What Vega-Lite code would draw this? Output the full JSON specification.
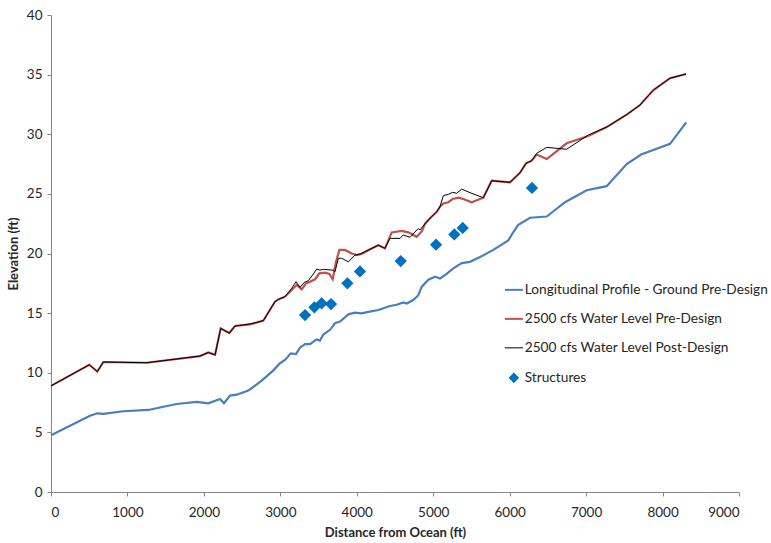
{
  "$schema": "https://vega.github.io/schema/vega-lite/v6.json",
  "width": 688,
  "height": 477,
  "autosize": {"type": "none"},
  "padding": {"left": 51, "top": 15, "right": 32, "bottom": 51},
  "background": "white",
  "config": {
    "view": {"stroke": null},
    "font": "Lato",
    "axis": {
      "grid": false,
      "domainColor": "#868686",
      "tickColor": "#868686",
      "tickSize": 4,
      "labelFont": "Lato",
      "labelFontSize": 13.5,
      "labelColor": "#262626",
      "titleFont": "Lato",
      "titleFontSize": 13,
      "titleFontWeight": "bold",
      "titleColor": "#262626"
    }
  },
  "datasets": {
    "profiles": [
      {"series": "Longitudinal Profile - Ground Pre-Design", "distance": 0, "elevation": 4.75},
      {"series": "Longitudinal Profile - Ground Pre-Design", "distance": 510, "elevation": 6.4},
      {"series": "Longitudinal Profile - Ground Pre-Design", "distance": 606, "elevation": 6.6},
      {"series": "Longitudinal Profile - Ground Pre-Design", "distance": 685, "elevation": 6.55},
      {"series": "Longitudinal Profile - Ground Pre-Design", "distance": 946, "elevation": 6.77},
      {"series": "Longitudinal Profile - Ground Pre-Design", "distance": 1273, "elevation": 6.88},
      {"series": "Longitudinal Profile - Ground Pre-Design", "distance": 1644, "elevation": 7.38},
      {"series": "Longitudinal Profile - Ground Pre-Design", "distance": 1906, "elevation": 7.55},
      {"series": "Longitudinal Profile - Ground Pre-Design", "distance": 2058, "elevation": 7.44},
      {"series": "Longitudinal Profile - Ground Pre-Design", "distance": 2211, "elevation": 7.8},
      {"series": "Longitudinal Profile - Ground Pre-Design", "distance": 2263, "elevation": 7.44},
      {"series": "Longitudinal Profile - Ground Pre-Design", "distance": 2342, "elevation": 8.08},
      {"series": "Longitudinal Profile - Ground Pre-Design", "distance": 2429, "elevation": 8.16},
      {"series": "Longitudinal Profile - Ground Pre-Design", "distance": 2581, "elevation": 8.5},
      {"series": "Longitudinal Profile - Ground Pre-Design", "distance": 2756, "elevation": 9.34},
      {"series": "Longitudinal Profile - Ground Pre-Design", "distance": 2909, "elevation": 10.2},
      {"series": "Longitudinal Profile - Ground Pre-Design", "distance": 2996, "elevation": 10.8},
      {"series": "Longitudinal Profile - Ground Pre-Design", "distance": 3061, "elevation": 11.07},
      {"series": "Longitudinal Profile - Ground Pre-Design", "distance": 3136, "elevation": 11.63},
      {"series": "Longitudinal Profile - Ground Pre-Design", "distance": 3205, "elevation": 11.57},
      {"series": "Longitudinal Profile - Ground Pre-Design", "distance": 3257, "elevation": 12.1},
      {"series": "Longitudinal Profile - Ground Pre-Design", "distance": 3323, "elevation": 12.4},
      {"series": "Longitudinal Profile - Ground Pre-Design", "distance": 3388, "elevation": 12.4},
      {"series": "Longitudinal Profile - Ground Pre-Design", "distance": 3476, "elevation": 12.8},
      {"series": "Longitudinal Profile - Ground Pre-Design", "distance": 3519, "elevation": 12.7},
      {"series": "Longitudinal Profile - Ground Pre-Design", "distance": 3562, "elevation": 13.2},
      {"series": "Longitudinal Profile - Ground Pre-Design", "distance": 3650, "elevation": 13.6},
      {"series": "Longitudinal Profile - Ground Pre-Design", "distance": 3715, "elevation": 14.15},
      {"series": "Longitudinal Profile - Ground Pre-Design", "distance": 3781, "elevation": 14.3},
      {"series": "Longitudinal Profile - Ground Pre-Design", "distance": 3890, "elevation": 14.9},
      {"series": "Longitudinal Profile - Ground Pre-Design", "distance": 3977, "elevation": 15.04},
      {"series": "Longitudinal Profile - Ground Pre-Design", "distance": 4064, "elevation": 14.98},
      {"series": "Longitudinal Profile - Ground Pre-Design", "distance": 4151, "elevation": 15.1},
      {"series": "Longitudinal Profile - Ground Pre-Design", "distance": 4282, "elevation": 15.26},
      {"series": "Longitudinal Profile - Ground Pre-Design", "distance": 4435, "elevation": 15.6},
      {"series": "Longitudinal Profile - Ground Pre-Design", "distance": 4522, "elevation": 15.7},
      {"series": "Longitudinal Profile - Ground Pre-Design", "distance": 4609, "elevation": 15.9},
      {"series": "Longitudinal Profile - Ground Pre-Design", "distance": 4653, "elevation": 15.8},
      {"series": "Longitudinal Profile - Ground Pre-Design", "distance": 4740, "elevation": 16.1},
      {"series": "Longitudinal Profile - Ground Pre-Design", "distance": 4805, "elevation": 16.5},
      {"series": "Longitudinal Profile - Ground Pre-Design", "distance": 4849, "elevation": 17.2},
      {"series": "Longitudinal Profile - Ground Pre-Design", "distance": 4936, "elevation": 17.8},
      {"series": "Longitudinal Profile - Ground Pre-Design", "distance": 5023, "elevation": 18.05},
      {"series": "Longitudinal Profile - Ground Pre-Design", "distance": 5089, "elevation": 17.9},
      {"series": "Longitudinal Profile - Ground Pre-Design", "distance": 5176, "elevation": 18.3},
      {"series": "Longitudinal Profile - Ground Pre-Design", "distance": 5263, "elevation": 18.76},
      {"series": "Longitudinal Profile - Ground Pre-Design", "distance": 5373, "elevation": 19.2},
      {"series": "Longitudinal Profile - Ground Pre-Design", "distance": 5481, "elevation": 19.3},
      {"series": "Longitudinal Profile - Ground Pre-Design", "distance": 5612, "elevation": 19.7},
      {"series": "Longitudinal Profile - Ground Pre-Design", "distance": 5786, "elevation": 20.3},
      {"series": "Longitudinal Profile - Ground Pre-Design", "distance": 5982, "elevation": 21.1},
      {"series": "Longitudinal Profile - Ground Pre-Design", "distance": 6048, "elevation": 21.8},
      {"series": "Longitudinal Profile - Ground Pre-Design", "distance": 6113, "elevation": 22.4},
      {"series": "Longitudinal Profile - Ground Pre-Design", "distance": 6266, "elevation": 23.0},
      {"series": "Longitudinal Profile - Ground Pre-Design", "distance": 6485, "elevation": 23.1},
      {"series": "Longitudinal Profile - Ground Pre-Design", "distance": 6724, "elevation": 24.3},
      {"series": "Longitudinal Profile - Ground Pre-Design", "distance": 7008, "elevation": 25.3},
      {"series": "Longitudinal Profile - Ground Pre-Design", "distance": 7269, "elevation": 25.65},
      {"series": "Longitudinal Profile - Ground Pre-Design", "distance": 7531, "elevation": 27.5},
      {"series": "Longitudinal Profile - Ground Pre-Design", "distance": 7720, "elevation": 28.3},
      {"series": "Longitudinal Profile - Ground Pre-Design", "distance": 8098, "elevation": 29.2},
      {"series": "Longitudinal Profile - Ground Pre-Design", "distance": 8310, "elevation": 31.0},

      {"series": "2500 cfs Water Level Pre-Design", "distance": 0, "elevation": 8.9},
      {"series": "2500 cfs Water Level Pre-Design", "distance": 501, "elevation": 10.67},
      {"series": "2500 cfs Water Level Pre-Design", "distance": 606, "elevation": 10.1},
      {"series": "2500 cfs Water Level Pre-Design", "distance": 685, "elevation": 10.9},
      {"series": "2500 cfs Water Level Pre-Design", "distance": 1252, "elevation": 10.84},
      {"series": "2500 cfs Water Level Pre-Design", "distance": 1949, "elevation": 11.4},
      {"series": "2500 cfs Water Level Pre-Design", "distance": 2058, "elevation": 11.7},
      {"series": "2500 cfs Water Level Pre-Design", "distance": 2146, "elevation": 11.5},
      {"series": "2500 cfs Water Level Pre-Design", "distance": 2220, "elevation": 13.72},
      {"series": "2500 cfs Water Level Pre-Design", "distance": 2276, "elevation": 13.52},
      {"series": "2500 cfs Water Level Pre-Design", "distance": 2333, "elevation": 13.35},
      {"series": "2500 cfs Water Level Pre-Design", "distance": 2407, "elevation": 13.92},
      {"series": "2500 cfs Water Level Pre-Design", "distance": 2603, "elevation": 14.05},
      {"series": "2500 cfs Water Level Pre-Design", "distance": 2778, "elevation": 14.37},
      {"series": "2500 cfs Water Level Pre-Design", "distance": 2930, "elevation": 15.96},
      {"series": "2500 cfs Water Level Pre-Design", "distance": 2974, "elevation": 16.15},
      {"series": "2500 cfs Water Level Pre-Design", "distance": 3061, "elevation": 16.38},
      {"series": "2500 cfs Water Level Pre-Design", "distance": 3149, "elevation": 16.94},
      {"series": "2500 cfs Water Level Pre-Design", "distance": 3214, "elevation": 17.36},
      {"series": "2500 cfs Water Level Pre-Design", "distance": 3279, "elevation": 17.0},
      {"series": "2500 cfs Water Level Pre-Design", "distance": 3336, "elevation": 17.5},
      {"series": "2500 cfs Water Level Pre-Design", "distance": 3388, "elevation": 17.64},
      {"series": "2500 cfs Water Level Pre-Design", "distance": 3454, "elevation": 17.84},
      {"series": "2500 cfs Water Level Pre-Design", "distance": 3510, "elevation": 18.34},
      {"series": "2500 cfs Water Level Pre-Design", "distance": 3584, "elevation": 18.4},
      {"series": "2500 cfs Water Level Pre-Design", "distance": 3641, "elevation": 18.28},
      {"series": "2500 cfs Water Level Pre-Design", "distance": 3685, "elevation": 17.84},
      {"series": "2500 cfs Water Level Pre-Design", "distance": 3724, "elevation": 19.18},
      {"series": "2500 cfs Water Level Pre-Design", "distance": 3772, "elevation": 20.3},
      {"series": "2500 cfs Water Level Pre-Design", "distance": 3846, "elevation": 20.3},
      {"series": "2500 cfs Water Level Pre-Design", "distance": 3934, "elevation": 20.0},
      {"series": "2500 cfs Water Level Pre-Design", "distance": 3999, "elevation": 19.87},
      {"series": "2500 cfs Water Level Pre-Design", "distance": 4064, "elevation": 19.96},
      {"series": "2500 cfs Water Level Pre-Design", "distance": 4173, "elevation": 20.35},
      {"series": "2500 cfs Water Level Pre-Design", "distance": 4282, "elevation": 20.7},
      {"series": "2500 cfs Water Level Pre-Design", "distance": 4369, "elevation": 20.43},
      {"series": "2500 cfs Water Level Pre-Design", "distance": 4457, "elevation": 21.77},
      {"series": "2500 cfs Water Level Pre-Design", "distance": 4588, "elevation": 21.89},
      {"series": "2500 cfs Water Level Pre-Design", "distance": 4675, "elevation": 21.77},
      {"series": "2500 cfs Water Level Pre-Design", "distance": 4784, "elevation": 21.4},
      {"series": "2500 cfs Water Level Pre-Design", "distance": 4849, "elevation": 21.85},
      {"series": "2500 cfs Water Level Pre-Design", "distance": 4893, "elevation": 22.5},
      {"series": "2500 cfs Water Level Pre-Design", "distance": 4958, "elevation": 22.95},
      {"series": "2500 cfs Water Level Pre-Design", "distance": 5046, "elevation": 23.5},
      {"series": "2500 cfs Water Level Pre-Design", "distance": 5089, "elevation": 23.93},
      {"series": "2500 cfs Water Level Pre-Design", "distance": 5132, "elevation": 24.2},
      {"series": "2500 cfs Water Level Pre-Design", "distance": 5198, "elevation": 24.3},
      {"series": "2500 cfs Water Level Pre-Design", "distance": 5254, "elevation": 24.57},
      {"series": "2500 cfs Water Level Pre-Design", "distance": 5329, "elevation": 24.68},
      {"series": "2500 cfs Water Level Pre-Design", "distance": 5394, "elevation": 24.57},
      {"series": "2500 cfs Water Level Pre-Design", "distance": 5503, "elevation": 24.3},
      {"series": "2500 cfs Water Level Pre-Design", "distance": 5655, "elevation": 24.68},
      {"series": "2500 cfs Water Level Pre-Design", "distance": 5765, "elevation": 26.1},
      {"series": "2500 cfs Water Level Pre-Design", "distance": 6005, "elevation": 25.97},
      {"series": "2500 cfs Water Level Pre-Design", "distance": 6135, "elevation": 26.77},
      {"series": "2500 cfs Water Level Pre-Design", "distance": 6214, "elevation": 27.56},
      {"series": "2500 cfs Water Level Pre-Design", "distance": 6288, "elevation": 27.78},
      {"series": "2500 cfs Water Level Pre-Design", "distance": 6353, "elevation": 28.3},
      {"series": "2500 cfs Water Level Pre-Design", "distance": 6485, "elevation": 27.92},
      {"series": "2500 cfs Water Level Pre-Design", "distance": 6746, "elevation": 29.24},
      {"series": "2500 cfs Water Level Pre-Design", "distance": 7029, "elevation": 29.85},
      {"series": "2500 cfs Water Level Pre-Design", "distance": 7269, "elevation": 30.6},
      {"series": "2500 cfs Water Level Pre-Design", "distance": 7531, "elevation": 31.65},
      {"series": "2500 cfs Water Level Pre-Design", "distance": 7705, "elevation": 32.45},
      {"series": "2500 cfs Water Level Pre-Design", "distance": 7880, "elevation": 33.7},
      {"series": "2500 cfs Water Level Pre-Design", "distance": 8098, "elevation": 34.7},
      {"series": "2500 cfs Water Level Pre-Design", "distance": 8307, "elevation": 35.05},

      {"series": "2500 cfs Water Level Post-Design", "distance": 0, "elevation": 8.9},
      {"series": "2500 cfs Water Level Post-Design", "distance": 501, "elevation": 10.67},
      {"series": "2500 cfs Water Level Post-Design", "distance": 606, "elevation": 10.1},
      {"series": "2500 cfs Water Level Post-Design", "distance": 685, "elevation": 10.9},
      {"series": "2500 cfs Water Level Post-Design", "distance": 1252, "elevation": 10.84},
      {"series": "2500 cfs Water Level Post-Design", "distance": 1949, "elevation": 11.4},
      {"series": "2500 cfs Water Level Post-Design", "distance": 2058, "elevation": 11.7},
      {"series": "2500 cfs Water Level Post-Design", "distance": 2146, "elevation": 11.5},
      {"series": "2500 cfs Water Level Post-Design", "distance": 2220, "elevation": 13.72},
      {"series": "2500 cfs Water Level Post-Design", "distance": 2276, "elevation": 13.52},
      {"series": "2500 cfs Water Level Post-Design", "distance": 2333, "elevation": 13.3},
      {"series": "2500 cfs Water Level Post-Design", "distance": 2407, "elevation": 13.92},
      {"series": "2500 cfs Water Level Post-Design", "distance": 2603, "elevation": 14.09},
      {"series": "2500 cfs Water Level Post-Design", "distance": 2778, "elevation": 14.37},
      {"series": "2500 cfs Water Level Post-Design", "distance": 2930, "elevation": 15.96},
      {"series": "2500 cfs Water Level Post-Design", "distance": 2974, "elevation": 16.15},
      {"series": "2500 cfs Water Level Post-Design", "distance": 3061, "elevation": 16.38},
      {"series": "2500 cfs Water Level Post-Design", "distance": 3149, "elevation": 17.08},
      {"series": "2500 cfs Water Level Post-Design", "distance": 3205, "elevation": 17.64},
      {"series": "2500 cfs Water Level Post-Design", "distance": 3257, "elevation": 17.16},
      {"series": "2500 cfs Water Level Post-Design", "distance": 3314, "elevation": 17.58},
      {"series": "2500 cfs Water Level Post-Design", "distance": 3366, "elevation": 17.72},
      {"series": "2500 cfs Water Level Post-Design", "distance": 3432, "elevation": 18.28},
      {"series": "2500 cfs Water Level Post-Design", "distance": 3476, "elevation": 18.7},
      {"series": "2500 cfs Water Level Post-Design", "distance": 3519, "elevation": 18.6},
      {"series": "2500 cfs Water Level Post-Design", "distance": 3562, "elevation": 18.67},
      {"series": "2500 cfs Water Level Post-Design", "distance": 3693, "elevation": 18.6},
      {"series": "2500 cfs Water Level Post-Design", "distance": 3715, "elevation": 18.47},
      {"series": "2500 cfs Water Level Post-Design", "distance": 3759, "elevation": 19.6},
      {"series": "2500 cfs Water Level Post-Design", "distance": 3803, "elevation": 19.6},
      {"series": "2500 cfs Water Level Post-Design", "distance": 3890, "elevation": 19.3},
      {"series": "2500 cfs Water Level Post-Design", "distance": 3977, "elevation": 19.87},
      {"series": "2500 cfs Water Level Post-Design", "distance": 4042, "elevation": 19.96},
      {"series": "2500 cfs Water Level Post-Design", "distance": 4173, "elevation": 20.35},
      {"series": "2500 cfs Water Level Post-Design", "distance": 4282, "elevation": 20.7},
      {"series": "2500 cfs Water Level Post-Design", "distance": 4369, "elevation": 20.43},
      {"series": "2500 cfs Water Level Post-Design", "distance": 4435, "elevation": 21.27},
      {"series": "2500 cfs Water Level Post-Design", "distance": 4566, "elevation": 21.27},
      {"series": "2500 cfs Water Level Post-Design", "distance": 4609, "elevation": 21.55},
      {"series": "2500 cfs Water Level Post-Design", "distance": 4697, "elevation": 21.36},
      {"series": "2500 cfs Water Level Post-Design", "distance": 4805, "elevation": 22.1},
      {"series": "2500 cfs Water Level Post-Design", "distance": 4827, "elevation": 21.97},
      {"series": "2500 cfs Water Level Post-Design", "distance": 4893, "elevation": 22.5},
      {"series": "2500 cfs Water Level Post-Design", "distance": 4958, "elevation": 22.95},
      {"series": "2500 cfs Water Level Post-Design", "distance": 5046, "elevation": 23.5},
      {"series": "2500 cfs Water Level Post-Design", "distance": 5089, "elevation": 23.93},
      {"series": "2500 cfs Water Level Post-Design", "distance": 5132, "elevation": 24.85},
      {"series": "2500 cfs Water Level Post-Design", "distance": 5198, "elevation": 24.96},
      {"series": "2500 cfs Water Level Post-Design", "distance": 5254, "elevation": 25.13},
      {"series": "2500 cfs Water Level Post-Design", "distance": 5307, "elevation": 25.05},
      {"series": "2500 cfs Water Level Post-Design", "distance": 5373, "elevation": 25.4},
      {"series": "2500 cfs Water Level Post-Design", "distance": 5481, "elevation": 25.1},
      {"series": "2500 cfs Water Level Post-Design", "distance": 5655, "elevation": 24.68},
      {"series": "2500 cfs Water Level Post-Design", "distance": 5765, "elevation": 26.1},
      {"series": "2500 cfs Water Level Post-Design", "distance": 6005, "elevation": 25.97},
      {"series": "2500 cfs Water Level Post-Design", "distance": 6135, "elevation": 26.77},
      {"series": "2500 cfs Water Level Post-Design", "distance": 6214, "elevation": 27.56},
      {"series": "2500 cfs Water Level Post-Design", "distance": 6288, "elevation": 27.78},
      {"series": "2500 cfs Water Level Post-Design", "distance": 6353, "elevation": 28.4},
      {"series": "2500 cfs Water Level Post-Design", "distance": 6485, "elevation": 28.9},
      {"series": "2500 cfs Water Level Post-Design", "distance": 6746, "elevation": 28.74},
      {"series": "2500 cfs Water Level Post-Design", "distance": 7029, "elevation": 29.94},
      {"series": "2500 cfs Water Level Post-Design", "distance": 7269, "elevation": 30.6},
      {"series": "2500 cfs Water Level Post-Design", "distance": 7531, "elevation": 31.65},
      {"series": "2500 cfs Water Level Post-Design", "distance": 7705, "elevation": 32.45},
      {"series": "2500 cfs Water Level Post-Design", "distance": 7880, "elevation": 33.7},
      {"series": "2500 cfs Water Level Post-Design", "distance": 8098, "elevation": 34.7},
      {"series": "2500 cfs Water Level Post-Design", "distance": 8307, "elevation": 35.05}
    ],
    "structures": [
      {"series": "Structures", "distance": 3323, "elevation": 14.84},
      {"series": "Structures", "distance": 3445, "elevation": 15.49},
      {"series": "Structures", "distance": 3541, "elevation": 15.82},
      {"series": "Structures", "distance": 3663, "elevation": 15.76},
      {"series": "Structures", "distance": 3877, "elevation": 17.5},
      {"series": "Structures", "distance": 4042, "elevation": 18.5},
      {"series": "Structures", "distance": 4575, "elevation": 19.37},
      {"series": "Structures", "distance": 5037, "elevation": 20.74},
      {"series": "Structures", "distance": 5276, "elevation": 21.6},
      {"series": "Structures", "distance": 5386, "elevation": 22.14},
      {"series": "Structures", "distance": 6292, "elevation": 25.5}
    ]
  },
  "encoding": {
    "x": {
      "field": "distance",
      "type": "quantitative",
      "title": "Distance from Ocean (ft)",
      "scale": {"domain": [0, 9000], "nice": false, "zero": false},
      "axis": {"values": [0, 1000, 2000, 3000, 4000, 5000, 6000, 7000, 8000, 9000], "labelPadding": 9, "titlePadding": 8, "format": "d"}
    },
    "y": {
      "field": "elevation",
      "type": "quantitative",
      "title": "Elevation (ft)",
      "scale": {"domain": [0, 40], "nice": false},
      "axis": {"values": [0, 5, 10, 15, 20, 25, 30, 35, 40], "labelPadding": 5, "titlePadding": 6}
    },
    "color": {
      "field": "series",
      "type": "nominal",
      "title": null,
      "scale": {
        "domain": [
          "Longitudinal Profile - Ground Pre-Design",
          "2500 cfs Water Level Pre-Design",
          "2500 cfs Water Level Post-Design",
          "Structures"
        ],
        "range": ["#4A7EBB", "#C0504D", "#000000", "#0070C0"]
      },
      "legend": {
        "orient": "none",
        "legendX": 456,
        "legendY": 268,
        "padding": 0,
        "symbolSize": 324,
        "symbolType": "stroke",
        "symbolStrokeWidth": 2,
        "labelFont": "Lato",
        "labelFontSize": 13.7,
        "labelColor": "#262626",
        "labelOffset": 4,
        "labelLimit": 400,
        "rowPadding": 14,
        "encode": {
          "symbols": {
            "update": {
              "shape": {"signal": "datum.value === 'Structures' ? 'diamond' : 'stroke'"},
              "size": {"signal": "datum.value === 'Structures' ? 60 : 324"},
              "fill": {"signal": "datum.value === 'Structures' ? '#0070C0' : 'transparent'"},
              "stroke": {"signal": "datum.value === 'Structures' ? 'transparent' : scale('color', datum.value)"},
              "strokeWidth": {"signal": "datum.value === '2500 cfs Water Level Post-Design' ? 1 : 2"},
              "opacity": {"value": 1}
            }
          }
        }
      }
    }
  },
  "layer": [
    {
      "data": {"name": "profiles"},
      "transform": [{"filter": "datum.series === 'Longitudinal Profile - Ground Pre-Design'"}],
      "mark": {"type": "line", "strokeWidth": 2.2},
      "encoding": {"order": {"field": "distance", "type": "quantitative"}}
    },
    {
      "data": {"name": "profiles"},
      "transform": [{"filter": "datum.series === '2500 cfs Water Level Pre-Design'"}],
      "mark": {"type": "line", "strokeWidth": 2.2},
      "encoding": {"order": {"field": "distance", "type": "quantitative"}}
    },
    {
      "data": {"name": "profiles"},
      "transform": [{"filter": "datum.series === '2500 cfs Water Level Post-Design'"}],
      "mark": {"type": "line", "strokeWidth": 1},
      "encoding": {"order": {"field": "distance", "type": "quantitative"}}
    },
    {
      "data": {"name": "structures"},
      "mark": {"type": "point", "shape": "diamond", "filled": true, "size": 150, "opacity": 1}
    }
  ]
}
